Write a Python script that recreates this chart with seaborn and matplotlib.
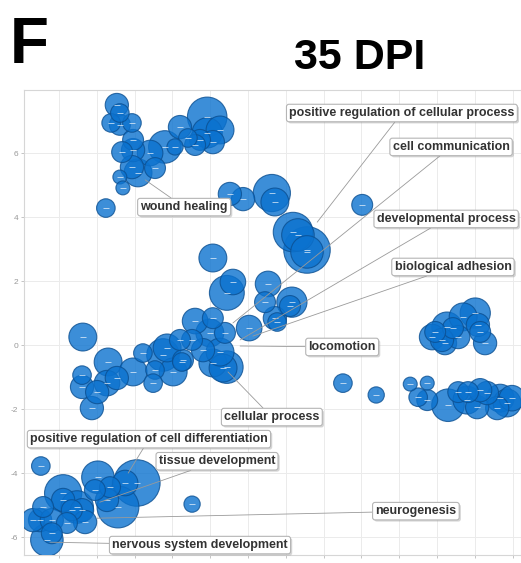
import numpy as np
import pandas as pd
import matplotlib
matplotlib.use("Agg")
import matplotlib.pyplot as plt
import matplotlib.patheffects as pe
import seaborn as sns

# ---- data: semantic-space coordinates of GO terms and their log sizes ----
sem_x = [1.53, 1.61, 1.38, 1.61, 1.93, 1.96, 1.67, 1.96, 1.93, 2.41, 2.54, 2.09, 1.61, 1.69,
         2.80, 3.07, 3.20, 3.41, 3.60, 3.92, 3.92, 4.07, 3.73, 1.24, 4.26,
         4.52, 4.87, 5.63, 5.71, 6.19, 6.32, 6.56, 6.56, 8.02, 4.07, 4.44, 4.60, 5.53, 5.45,
         6.16, 6.11, 5.71, 5.77, 5.03, 4.07, 3.60, 3.99, 4.39, 3.81, 4.26, 4.44, 4.07, 3.28,
         3.20, 7.51, 8.39,
         0.63, 1.30, 0.61, 0.61, 1.01, 0.87, 1.53, 1.27, 1.96, 2.22, 2.54, 2.49, 2.86, 2.75,
         3.02, 3.25, 3.52, 4.34,
         -0.48, 3.52, 2.06, 1.75, 1.35, 1.03, 0.95, 1.56, 1.27, 0.61, 0.11, 0.11, 0.34, -0.19,
         0.21, 0.69, -0.50, -0.19, -0.32, -0.69, -0.42, 0.48,
         9.87, 10.26, 9.95, 10.21, 10.56, 10.69, 11.01, 11.14, 11.08, 11.27, 10.13, 10.42,
         9.29, 9.74, 9.50, 9.74, 10.29, 10.56, 10.82, 11.14, 11.32, 11.67, 11.85, 10.79, 11.06,
         11.59, 11.98]
sem_y = [7.50, 7.25, 6.94, 6.88, 6.94, 6.41, 6.03, 6.09, 5.56, 6.00, 5.53, 5.38, 5.25, 4.91,
         6.19, 6.19, 6.81, 6.47, 6.25, 7.13, 6.63, 6.34, 6.41, 4.28, 6.72,
         4.72, 4.56, 4.75, 4.47, 3.53, 3.44, 2.97, 2.91, 4.38, 2.72, 1.63, 1.97, 1.91, 1.34,
         1.34, 1.22, 0.84, 0.72, 0.53, 0.84, 0.75, 0.38, 0.38, -0.16, -0.22, -0.69, -0.56, -0.47,
         0.16, -1.19, -1.56,
         0.25, -0.53, -0.94, -1.31, -1.47, -1.97, -1.03, -1.19, -0.84, -0.25, -0.78, -1.19, -0.09, -0.31,
         -0.84, -0.53, 0.16, -0.72,
         -3.78, -4.97, -4.31, -4.31, -4.44, -4.13, -4.53, -5.06, -4.84, -5.16, -4.63, -4.84, -5.16, -5.47,
         -5.56, -5.53, -5.47, -5.88, -6.09, -5.47, -5.06, -5.06,
         0.25, 0.56, 0.41, 0.06, 0.25, 0.88, 1.00, 0.41, 0.63, 0.06, 0.16, 0.53,
         -1.22, -1.19, -1.63, -1.72, -1.88, -1.47, -1.47, -1.41, -1.50, -1.66, -1.81, -1.72, -1.94,
         -1.97, -1.66]
log_size = [1.00, 0.64, 0.64, 0.81, 0.64, 0.81, 0.81, 1.00, 1.00, 1.21, 0.81, 1.44, 0.36, 0.36,
            1.96, 0.49, 1.00, 0.64, 0.81, 2.89, 1.69, 1.00, 0.81, 0.64, 1.44,
            1.00, 1.00, 2.56, 1.44, 2.89, 1.96, 4.00, 1.96, 0.81, 1.44, 2.25, 1.21, 1.21, 0.81,
            1.69, 0.81, 1.00, 0.64, 1.21, 0.81, 1.21, 1.44, 0.81, 1.00, 1.44, 1.96, 1.44, 0.81,
            0.81, 0.64, 0.49,
            1.44, 1.44, 0.64, 1.00, 1.00, 1.00, 1.00, 1.21, 1.44, 0.64, 0.64, 0.64, 1.44, 1.96,
            1.44, 0.64, 0.81, 1.44,
            0.64, 0.49, 4.00, 1.21, 0.81, 1.96, 0.81, 3.24, 1.00, 1.00, 2.56, 1.00, 0.81, 1.00,
            0.81, 1.00, 1.00, 0.81, 1.96, 1.00, 0.81, 1.96,
            1.21, 1.69, 0.81, 1.00, 1.00, 1.44, 1.69, 0.81, 1.00, 1.00, 1.00, 0.81,
            0.36, 0.36, 0.64, 0.81, 1.96, 0.81, 0.81, 1.00, 1.00, 1.44, 1.44, 1.44, 1.00,
            1.00, 1.21]

label_terms = ["positive regulation of cellular process", "cell communication",
               "developmental process", "biological adhesion", "locomotion",
               "cellular process", "wound healing",
               "positive regulation of cell differentiation", "tissue development",
               "neurogenesis", "nervous system development"]
label_point_x = [6.83, 4.60, 4.79, 5.13, 4.79, 4.47, 2.28, 1.83, 1.08, 1.01, -0.24]
label_point_y = [3.84, 0.69, 0.16, 0.28, -0.03, -0.84, 5.16, -4.00, -4.91, -5.41, -6.16]
label_text_x = [9.07, 10.37, 10.24, 10.42, 7.49, 5.63, 3.31, 2.38, 4.18, 9.44, 3.73]
label_text_y = [7.25, 6.19, 3.94, 2.44, -0.06, -2.25, 4.31, -2.94, -3.63, -5.19, -6.25]

y_ticks = [-6, -4, -2, 0, 2, 4, 6]
y_tick_labels = ["-6", "-4", "-2", "0", "2", "4", "6"]

df = pd.DataFrame({"x": sem_x, "y": sem_y, "log_size": log_size})
df = df.sort_values("log_size", ascending=False)

sns.set_theme(style="whitegrid")
plt.rcParams["font.family"] = ["Liberation Sans", "DejaVu Sans"]

fig = plt.figure(figsize=(5.21, 5.63), dpi=100)
ax = fig.add_axes([0.046, 0.0142, 0.954, 0.826])

sns.scatterplot(data=df, x="x", y="y", size="log_size", sizes=(0, 1120),
                size_norm=(0, 4), legend=False, color="#0b72cf", alpha=0.8,
                edgecolor="#0b4f91", linewidth=0.8, ax=ax, zorder=3)
ax.scatter(df["x"], df["y"], marker="_", s=14, c="white", linewidths=0.6,
           alpha=0.75, zorder=4)

for t, px, py, tx, ty in zip(label_terms, label_point_x, label_point_y,
                             label_text_x, label_text_y):
    ann = ax.annotate(t, xy=(px, py), xytext=(tx, ty), ha="center", va="center",
                      fontsize=9, fontweight="bold", color="#333333", zorder=6,
                      bbox=dict(boxstyle="round,pad=0.22,rounding_size=0.2", fc="white",
                                ec="#b5b5b5", lw=0.8),
                      arrowprops=dict(arrowstyle="-", color="#9a9a9a", lw=0.6,
                                      shrinkA=0, shrinkB=0), annotation_clip=False)
    ann.get_bbox_patch().set_path_effects(
        [pe.SimplePatchShadow(offset=(1.2, -1.2), shadow_rgbFace="#888888", alpha=0.35),
         pe.Normal()])

ax.set_xlim(-0.926, 12.22)
ax.set_ylim(-6.56, 7.97)
ax.set_xticks(range(0, 13))
ax.set_xticklabels([])
ax.set_yticks(y_ticks)
ax.set_yticklabels(y_tick_labels)
ax.set_xlabel("")
ax.set_ylabel("")
ax.grid(True, color="#ebebeb", lw=0.7)
ax.tick_params(axis="both", length=2.5, width=0.6, color="#bbbbbb",
               labelsize=6, labelcolor="#999999", pad=1.5, left=True, bottom=True)
for s in ax.spines.values():
    s.set_color("#d6d6d6")
    s.set_linewidth(0.8)

fig.text(0.019, 0.972, "F", fontsize=46, fontweight="bold", color="black",
         va="top", ha="left", family=["Liberation Sans", "DejaVu Sans"])
fig.text(0.691, 0.932, "35 DPI", fontsize=31, fontweight="bold", color="black",
         va="top", ha="center", family=["Liberation Sans Narrow", "Liberation Sans", "DejaVu Sans"])

fig.savefig("out.png", dpi=100)
